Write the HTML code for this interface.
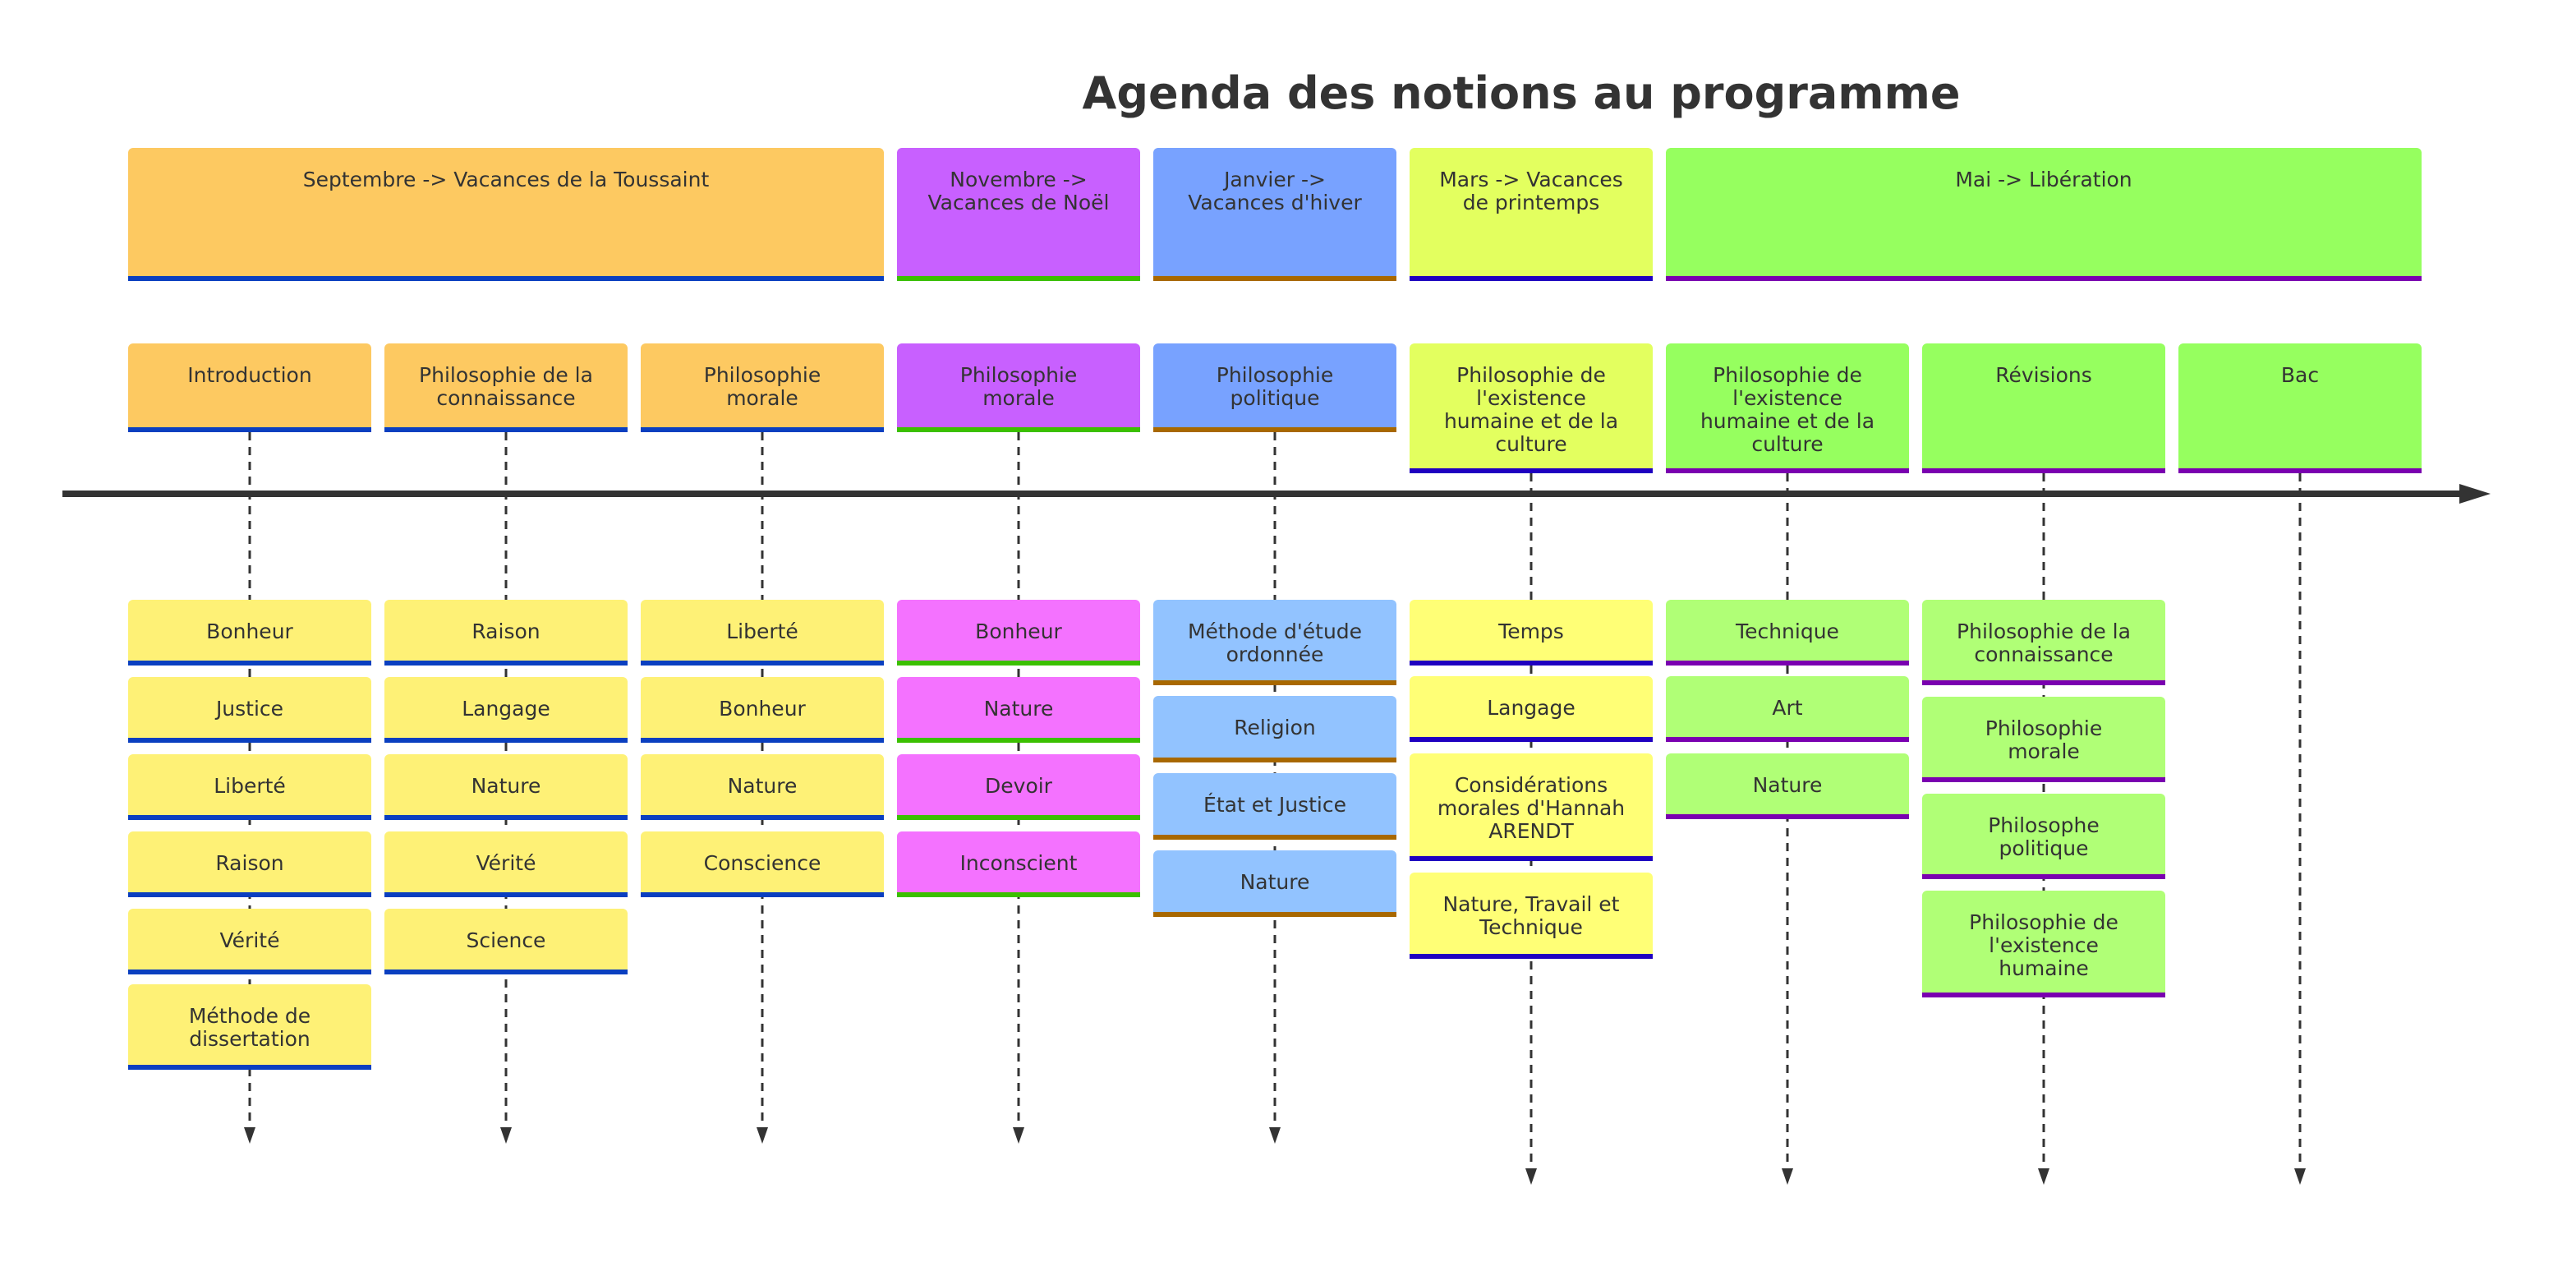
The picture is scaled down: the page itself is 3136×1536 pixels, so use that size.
<!DOCTYPE html>
<html><head><meta charset="utf-8">
<style>
body{margin:0;width:3136px;height:1536px;background:#fff;position:relative;overflow:hidden;font-family:"DejaVu Sans","Liberation Sans",sans-serif;}
.t{position:absolute;left:0;width:3136px;top:82px;text-align:center;padding-left:568px;box-sizing:border-box;font-weight:bold;font-size:54px;color:#333;}
.b{position:absolute;width:296px;box-sizing:border-box;border-radius:6px 6px 0 0;border-bottom:6px solid;text-align:center;padding-top:25px;line-height:28px;font-size:25px;color:#333;}
.s1{background:#fdc961;border-color:#0a3fc0}
.e1{background:#fef176;border-color:#0a3fc0}
.s2{background:#c860ff;border-color:#3bc000}
.e2{background:#f472ff;border-color:#3bc000}
.s3{background:#78a2ff;border-color:#a86800}
.e3{background:#92c3ff;border-color:#a86800}
.s4{background:#e3ff5f;border-color:#1f00c0}
.e4{background:#ffff76;border-color:#1f00c0}
.s5{background:#96ff5f;border-color:#7a00b0}
.e5{background:#b0ff76;border-color:#7a00b0}
svg{position:absolute;left:0;top:0}
</style></head><body>
<svg width="3136" height="1536">
<g stroke="#333" stroke-width="3" stroke-dasharray="10,8">
<line x1="304" y1="526" x2="304" y2="1380"/>
<line x1="616" y1="526" x2="616" y2="1380"/>
<line x1="928" y1="526" x2="928" y2="1380"/>
<line x1="1240" y1="526" x2="1240" y2="1380"/>
<line x1="1552" y1="526" x2="1552" y2="1380"/>
<line x1="1864" y1="576" x2="1864" y2="1430"/>
<line x1="2176" y1="576" x2="2176" y2="1430"/>
<line x1="2488" y1="576" x2="2488" y2="1430"/>
<line x1="2800" y1="576" x2="2800" y2="1430"/>
</g>
<g fill="#333">
<polygon points="297,1372 311,1372 304,1392"/>
<polygon points="609,1372 623,1372 616,1392"/>
<polygon points="921,1372 935,1372 928,1392"/>
<polygon points="1233,1372 1247,1372 1240,1392"/>
<polygon points="1545,1372 1559,1372 1552,1392"/>
<polygon points="1857,1422 1871,1422 1864,1442"/>
<polygon points="2169,1422 2183,1422 2176,1442"/>
<polygon points="2481,1422 2495,1422 2488,1442"/>
<polygon points="2793,1422 2807,1422 2800,1442"/>
</g>
<line x1="76" y1="601" x2="3000" y2="601" stroke="#333" stroke-width="8"/>
<polygon points="2994,589 3032,601 2994,613" fill="#333"/>
</svg>
<div class="t">Agenda des notions au programme</div>

<div class="b s1" style="left:156px;top:180px;width:920px;height:162px">Septembre -&gt; Vacances de la Toussaint</div>
<div class="b s2" style="left:1092px;top:180px;height:162px">Novembre -&gt;<br>Vacances de Noël</div>
<div class="b s3" style="left:1404px;top:180px;height:162px">Janvier -&gt;<br>Vacances d'hiver</div>
<div class="b s4" style="left:1716px;top:180px;height:162px">Mars -&gt; Vacances<br>de printemps</div>
<div class="b s5" style="left:2028px;top:180px;width:920px;height:162px">Mai -&gt; Libération</div>

<div class="b s1" style="left:156px;top:418px;height:108px">Introduction</div>
<div class="b s1" style="left:468px;top:418px;height:108px">Philosophie de la<br>connaissance</div>
<div class="b s1" style="left:780px;top:418px;height:108px">Philosophie<br>morale</div>
<div class="b s2" style="left:1092px;top:418px;height:108px">Philosophie<br>morale</div>
<div class="b s3" style="left:1404px;top:418px;height:108px">Philosophie<br>politique</div>
<div class="b s4" style="left:1716px;top:418px;height:158px">Philosophie de<br>l'existence<br>humaine et de la<br>culture</div>
<div class="b s5" style="left:2028px;top:418px;height:158px">Philosophie de<br>l'existence<br>humaine et de la<br>culture</div>
<div class="b s5" style="left:2340px;top:418px;height:158px">Révisions</div>
<div class="b s5" style="left:2652px;top:418px;height:158px">Bac</div>

<div class="b e1" style="left:156px;top:730px;height:80px">Bonheur</div>
<div class="b e1" style="left:156px;top:824px;height:80px">Justice</div>
<div class="b e1" style="left:156px;top:918px;height:80px">Liberté</div>
<div class="b e1" style="left:156px;top:1012px;height:80px">Raison</div>
<div class="b e1" style="left:156px;top:1106px;height:80px">Vérité</div>
<div class="b e1" style="left:156px;top:1198px;height:104px">Méthode de<br>dissertation</div>

<div class="b e1" style="left:468px;top:730px;height:80px">Raison</div>
<div class="b e1" style="left:468px;top:824px;height:80px">Langage</div>
<div class="b e1" style="left:468px;top:918px;height:80px">Nature</div>
<div class="b e1" style="left:468px;top:1012px;height:80px">Vérité</div>
<div class="b e1" style="left:468px;top:1106px;height:80px">Science</div>

<div class="b e1" style="left:780px;top:730px;height:80px">Liberté</div>
<div class="b e1" style="left:780px;top:824px;height:80px">Bonheur</div>
<div class="b e1" style="left:780px;top:918px;height:80px">Nature</div>
<div class="b e1" style="left:780px;top:1012px;height:80px">Conscience</div>

<div class="b e2" style="left:1092px;top:730px;height:80px">Bonheur</div>
<div class="b e2" style="left:1092px;top:824px;height:80px">Nature</div>
<div class="b e2" style="left:1092px;top:918px;height:80px">Devoir</div>
<div class="b e2" style="left:1092px;top:1012px;height:80px">Inconscient</div>

<div class="b e3" style="left:1404px;top:730px;height:104px">Méthode d'étude<br>ordonnée</div>
<div class="b e3" style="left:1404px;top:847px;height:81px">Religion</div>
<div class="b e3" style="left:1404px;top:941px;height:81px">État et Justice</div>
<div class="b e3" style="left:1404px;top:1035px;height:81px">Nature</div>

<div class="b e4" style="left:1716px;top:730px;height:80px">Temps</div>
<div class="b e4" style="left:1716px;top:823px;height:80px">Langage</div>
<div class="b e4" style="left:1716px;top:917px;height:131px">Considérations<br>morales d'Hannah<br>ARENDT</div>
<div class="b e4" style="left:1716px;top:1062px;height:105px">Nature, Travail et<br>Technique</div>

<div class="b e5" style="left:2028px;top:730px;height:80px">Technique</div>
<div class="b e5" style="left:2028px;top:823px;height:80px">Art</div>
<div class="b e5" style="left:2028px;top:917px;height:80px">Nature</div>

<div class="b e5" style="left:2340px;top:730px;height:104px">Philosophie de la<br>connaissance</div>
<div class="b e5" style="left:2340px;top:848px;height:104px">Philosophie<br>morale</div>
<div class="b e5" style="left:2340px;top:966px;height:104px">Philosophe<br>politique</div>
<div class="b e5" style="left:2340px;top:1084px;height:130px">Philosophie de<br>l'existence<br>humaine</div>
</body></html>
